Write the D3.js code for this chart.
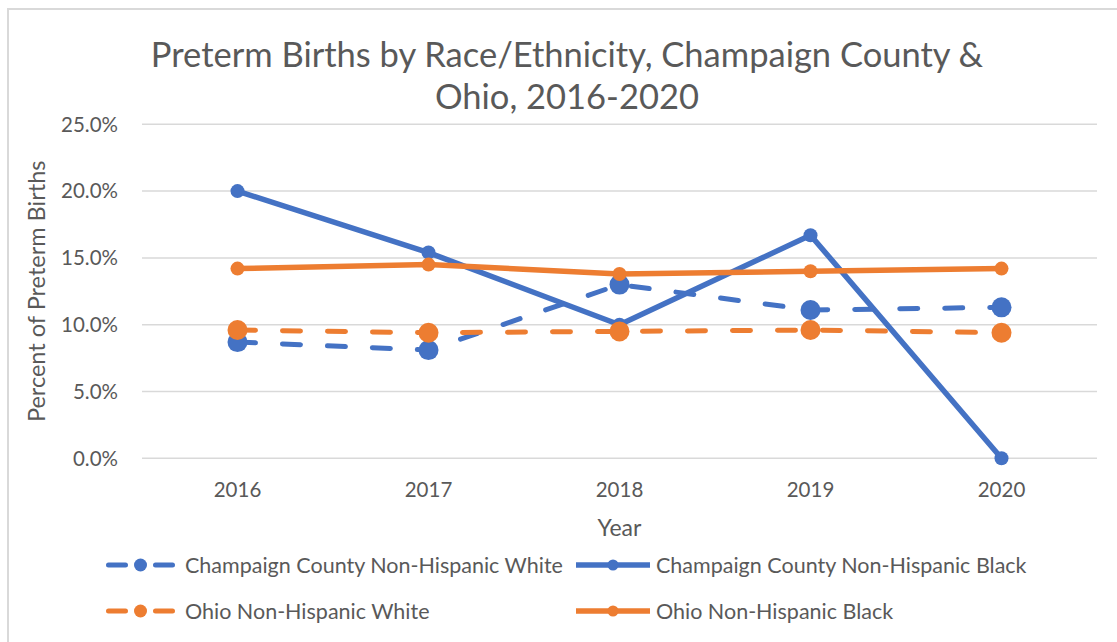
<!DOCTYPE html>
<html>
<head>
<meta charset="utf-8">
<script src="https://cdn.jsdelivr.net/npm/d3@7"></script>
<style>
  body { margin: 0; background: #fff; }
  svg text { font-family: Lato, "Open Sans", sans-serif; fill: #595959; }
</style>
</head>
<body>
<svg id="chart" width="1117" height="642"></svg>
<script>
// Preterm births by race/ethnicity — Champaign County & Ohio

const YEARS = ['2016', '2017', '2018', '2019', '2020'];
const CC_WHITE = [8.7, 8.1, 13.0, 11.1, 11.3];
const CC_BLACK = [20.0, 15.4, 10.0, 16.7, 0.0];
const OHIO_WHITE = [9.6, 9.4, 9.5, 9.6, 9.4];
const OHIO_BLACK = [14.2, 14.5, 13.8, 14.0, 14.2];
const Y_TICKS = [0, 5, 10, 15, 20, 25];

const BLUE = '#4472C4', ORANGE = '#ED7D31';

const SERIES = [
  { name: 'Champaign County Non-Hispanic White', values: CC_WHITE, color: BLUE, dashed: true },
  { name: 'Champaign County Non-Hispanic Black', values: CC_BLACK, color: BLUE, dashed: false },
  { name: 'Ohio Non-Hispanic White', values: OHIO_WHITE, color: ORANGE, dashed: true },
  { name: 'Ohio Non-Hispanic Black', values: OHIO_BLACK, color: ORANGE, dashed: false },
];

const svg = d3.select('#chart');
const plot = { left: 142, right: 1097, top: 124.3, bottom: 458.3 };

// chart frame (only top/left edges are in view)
svg.append('path')
  .attr('d', 'M8,660 V9 H1130')
  .attr('fill', 'none').attr('stroke', '#D9D9D9').attr('stroke-width', 2);

const x = d3.scalePoint().domain(YEARS).range([plot.left, plot.right]).padding(0.5);
const y = d3.scaleLinear().domain([0, 25]).range([plot.bottom, plot.top]);

// gridlines
svg.append('g').selectAll('line')
  .data(Y_TICKS)
  .join('line')
  .attr('x1', plot.left).attr('x2', plot.right)
  .attr('y1', d => y(d)).attr('y2', d => y(d))
  .attr('stroke', '#D9D9D9').attr('stroke-width', 1.5);

// y axis labels
svg.append('g').selectAll('text')
  .data(Y_TICKS)
  .join('text')
  .attr('x', 118).attr('y', d => y(d)).attr('dy', '0.36em')
  .attr('text-anchor', 'end').style('font-size', '20.5px')
  .text(d => d.toFixed(1) + '%');

// x axis labels
svg.append('g').selectAll('text')
  .data(YEARS)
  .join('text')
  .attr('x', d => x(d)).attr('y', 497)
  .attr('text-anchor', 'middle').style('font-size', '20.5px')
  .text(d => d);

svg.append('text')
  .attr('x', (plot.left + plot.right) / 2).attr('y', 536)
  .attr('text-anchor', 'middle').style('font-size', '23px')
  .text('Year');

svg.append('text')
  .attr('transform', `translate(45, ${(plot.top + plot.bottom) / 2}) rotate(-90)`)
  .attr('text-anchor', 'middle').style('font-size', '23.5px')
  .text('Percent of Preterm Births');

// title
const title = svg.append('text').attr('text-anchor', 'middle').style('font-size', '34.5px');
title.append('tspan').attr('x', 567).attr('y', 67).text('Preterm Births by Race/Ethnicity, Champaign County &');
title.append('tspan').attr('x', 567).attr('y', 109).text('Ohio, 2016-2020');

// series: line then markers, in Excel's drawing order
const line = d3.line().x((d, i) => x(YEARS[i])).y(d => y(d));

SERIES.forEach(s => {
  const g = svg.append('g');
  g.append('path')
    .attr('d', line(s.values))
    .attr('fill', 'none')
    .attr('stroke', s.color)
    .attr('stroke-width', s.dashed ? 5 : 5.5)
    .attr('stroke-linecap', 'round')
    .attr('stroke-linejoin', 'round')
    .attr('stroke-dasharray', s.dashed ? '18,27' : null);
  g.selectAll('circle')
    .data(s.values)
    .join('circle')
    .attr('cx', (d, i) => x(YEARS[i])).attr('cy', d => y(d))
    .attr('r', s.dashed ? 10 : 7)
    .attr('fill', s.color);
});

// legend
const LEGEND_POS = [[106, 565], [576, 565], [106, 611], [576, 611]];
SERIES.forEach((s, i) => {
  const [lx, ly] = LEGEND_POS[i];
  const item = svg.append('g').attr('transform', `translate(${lx}, ${ly})`);
  if (s.dashed) {
    item.append('line')
      .attr('x1', 2.5).attr('x2', 66.5).attr('y1', 0).attr('y2', 0)
      .attr('stroke', s.color).attr('stroke-width', 5)
      .attr('stroke-linecap', 'round').attr('stroke-dasharray', '17,30');
  } else {
    item.append('line')
      .attr('x1', 0).attr('x2', 74).attr('y1', 0).attr('y2', 0)
      .attr('stroke', s.color).attr('stroke-width', 5.5);
  }
  item.append('circle')
    .attr('cx', s.dashed ? 34.5 : 37).attr('cy', 0)
    .attr('r', s.dashed ? 6.5 : 5.5).attr('fill', s.color);
  item.append('text')
    .attr('x', s.dashed ? 79 : 80).attr('y', 0).attr('dy', '0.36em')
    .style('font-size', '21.5px')
    .text(s.name);
});
</script>
</body>
</html>
